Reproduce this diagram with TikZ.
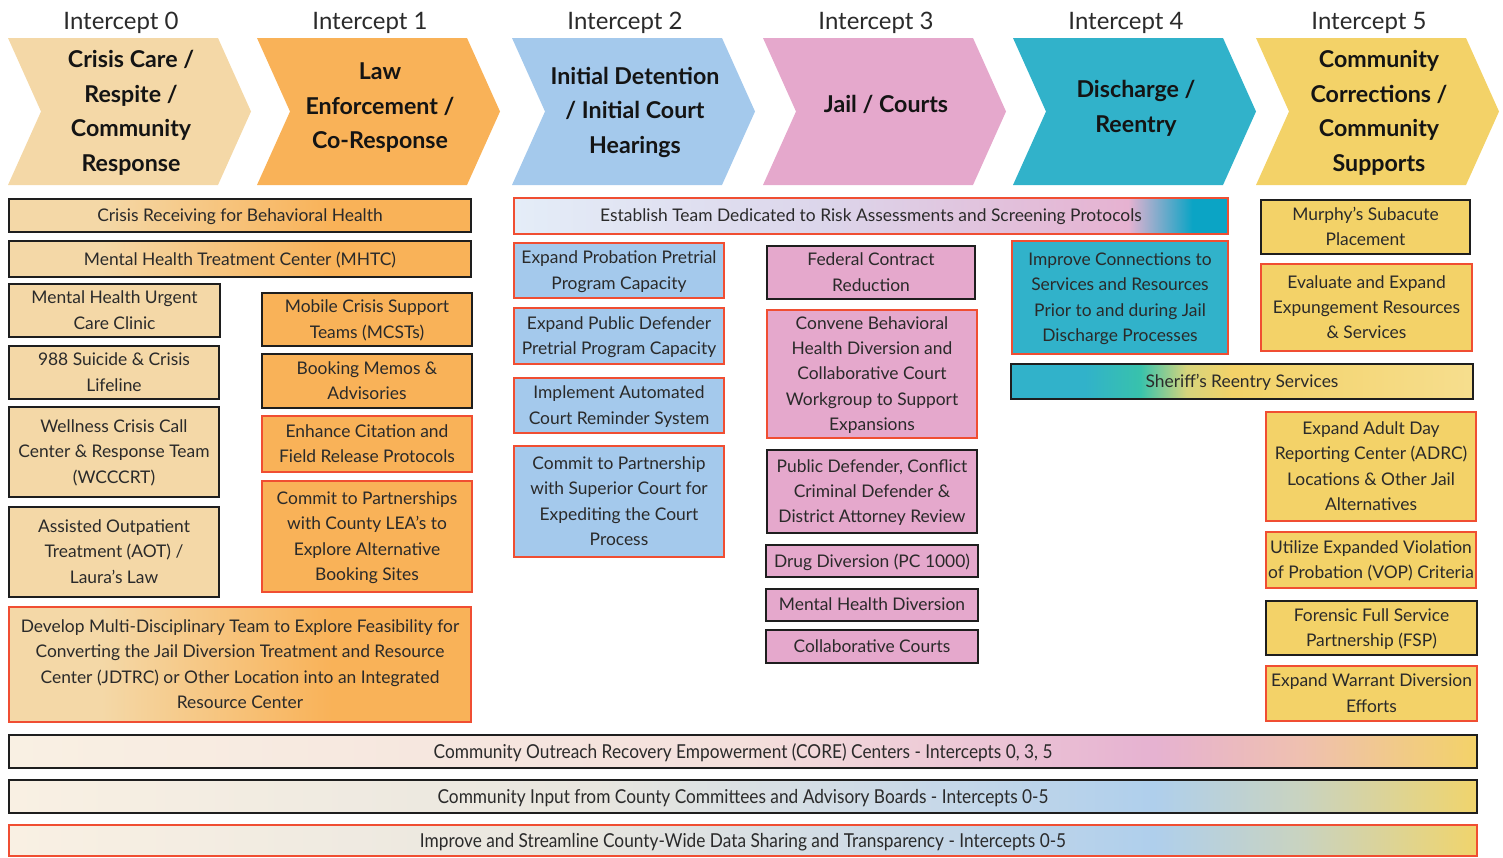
\documentclass[tikz,border=0pt]{standalone}
\usepackage{fontspec}
\setmainfont{Lato}
\newfontfamily\condfont[FakeStretch=0.9]{Lato}
\definecolor{Ink}{HTML}{1E1E1E}
\definecolor{Flag}{HTML}{F04E32}
\definecolor{Txt}{HTML}{2A2A2A}
\definecolor{Head}{HTML}{141414}
\definecolor{Tan}{HTML}{F4D8A7}
\definecolor{Orange}{HTML}{F9B258}
\definecolor{Sky}{HTML}{A4C9EC}
\definecolor{Rose}{HTML}{E5A8CC}
\definecolor{Teal}{HTML}{31B2CA}
\definecolor{Gold}{HTML}{F3D268}
\definecolor{Frost}{HTML}{E4EDF8}
\definecolor{Lilac}{HTML}{DCD5EA}
\definecolor{Blush}{HTML}{E6B2D1}
\definecolor{Sea}{HTML}{0BA4C5}
\definecolor{Mint}{HTML}{38C2AC}
\definecolor{Olive}{HTML}{D6D47C}
\definecolor{Butter}{HTML}{F6DE8E}
\definecolor{Cream}{HTML}{F9F0E3}
\definecolor{Shell}{HTML}{F4E0DC}
\definecolor{Peach}{HTML}{EFC0B0}
\definecolor{Stone}{HTML}{E8E6DF}
\definecolor{Mist}{HTML}{CCDAE7}
\definecolor{Ice}{HTML}{AFCFEC}
\definecolor{Sage}{HTML}{C9D3C0}
\definecolor{Straw}{HTML}{F0D46C}
% multi-stop fills (the 25bp--75bp part spans the box)
\pgfdeclarehorizontalshading{tanorange}{100bp}{color(0bp)=(Tan); color(35bp)=(Tan); color(60bp)=(Orange); color(100bp)=(Orange)}
\pgfdeclarehorizontalshading{riskfill}{100bp}{color(0bp)=(Frost); color(25bp)=(Frost); color(47bp)=(Lilac); color(68bp)=(Blush); color(72.5bp)=(Sea); color(100bp)=(Sea)}
\pgfdeclarehorizontalshading{reentryfill}{100bp}{color(0bp)=(Teal); color(33bp)=(Teal); color(39bp)=(Mint); color(44bp)=(Olive); color(49bp)=(Gold); color(75bp)=(Butter); color(100bp)=(Butter)}
\pgfdeclarehorizontalshading{corefill}{100bp}{color(0bp)=(Cream); color(25bp)=(Cream); color(50bp)=(Shell); color(64bp)=(Blush); color(69bp)=(Peach); color(75bp)=(Gold); color(100bp)=(Gold)}
\pgfdeclarehorizontalshading{inputfill}{100bp}{color(0bp)=(Cream); color(25bp)=(Cream); color(45bp)=(Stone); color(55bp)=(Mist); color(64bp)=(Ice); color(69bp)=(Sage); color(75bp)=(Straw); color(100bp)=(Straw)}
\tikzset{
  spot/.style args={(#1,#2)(#3,#4)}{at={({(#1+#3)/2},{(#2+#4)/2})},minimum width={(#3-#1)*0.5pt},minimum height={(#4-#2)*0.5pt}},
  box/.style={inner sep=0pt,align=center,text=Txt,line width=1.4pt,text depth=0.5pt,font=\fontsize{8.7}{12.7}\selectfont},
  blk/.style={box,draw=Ink},
  hot/.style={box,draw=Flag},
  bar/.style={shade,font=\condfont\fontsize{9.6}{11}\selectfont},
  head/.style={align=center,text=Head,font=\bfseries\fontsize{11.6}{17.25}\selectfont},
  tag/.style={text=Txt,font=\fontsize{12}{14}\selectfont},
}
\begin{document}
\begin{tikzpicture}[x=0.5pt,y=-0.5pt]
\useasboundingbox (0,0) rectangle (1503,857);
% intercept chevrons
\foreach \lx/\col/\ty/\n/\txt in {8/Tan/113/0/{Crisis Care /\\Respite /\\Community\\Response},
  257/Orange/108/1/{Law\\Enforcement /\\Co-Response},
  512/Sky/112/2/{Initial Detention\\/ Initial Court\\Hearings},
  763/Rose/104/3/{Jail / Courts},
  1013/Teal/108.5/4/{Discharge /\\Reentry},
  1256/Gold/113/5/{Community\\Corrections /\\Community\\Supports}}{
  \fill[\col] (\lx,38) -- (\lx+210,38) -- (\lx+243,111.5) -- (\lx+210,185) -- (\lx,185) -- (\lx+33,111.5) -- cycle;
  \node[head] (hd\n) at (\lx+123,\ty) {\txt};
  \node[tag] (ic\n) at (\lx+113,23) {Intercept \n};
}
% intercepts 0 and 1
\node[blk,shade,shading=tanorange,spot={(9,199)(471,232)}] (crisis) {Crisis Receiving for Behavioral Health};
\node[blk,shade,shading=tanorange,spot={(9,241)(471,277)}] (mhtc) {Mental Health Treatment Center (MHTC)};
\node[blk,fill=Tan,spot={(9,284)(220,337)}] (urgent) {Mental Health Urgent\\Care Clinic};
\node[blk,fill=Tan,spot={(9,346)(219,399)}] (lifeline) {988 Suicide \& Crisis\\Lifeline};
\node[blk,fill=Tan,spot={(9,407)(219,497)}] (wcccrt) {Wellness Crisis Call\\Center \& Response Team\\(WCCCRT)};
\node[blk,fill=Tan,spot={(9,507)(219,597)}] (aot) {Assisted Outpatient\\Treatment (AOT) /\\Laura's Law};
\node[blk,fill=Orange,spot={(262,293)(472,346)}] (mcst) {Mobile Crisis Support\\Teams (MCSTs)};
\node[blk,fill=Orange,spot={(262,354)(472,408)}] (memos) {Booking Memos \&\\Advisories};
\node[hot,fill=Orange,spot={(262,416)(472,472)}] (citation) {Enhance Citation and\\Field Release Protocols};
\node[hot,fill=Orange,spot={(262,481)(472,592)}] (lea) {Commit to Partnerships\\with County LEA's to\\Explore Alternative\\Booking Sites};
\node[hot,shade,shading=tanorange,spot={(9,607)(471,722)}] (jdtrc) {Develop Multi-Disciplinary Team to Explore Feasibility for\\Converting the Jail Diversion Treatment and Resource\\Center (JDTRC) or Other Location into an Integrated\\Resource Center};
% intercept 2
\node[hot,shade,shading=riskfill,spot={(514,198)(1228,234)}] (risk) {Establish Team Dedicated to Risk Assessments and Screening Protocols};
\node[hot,fill=Sky,spot={(514,243)(724,298)}] (probation) {Expand Probation Pretrial\\Program Capacity};
\node[hot,fill=Sky,spot={(514,308)(724,364)}] (pubdef) {Expand Public Defender\\Pretrial Program Capacity};
\node[hot,fill=Sky,spot={(514,378)(724,433)}] (reminder) {Implement Automated\\Court Reminder System};
\node[hot,fill=Sky,spot={(514,446)(724,557)}] (superior) {Commit to Partnership\\with Superior Court for\\Expediting the Court\\Process};
% intercept 3
\node[blk,fill=Rose,spot={(767,246)(975,299)}] (federal) {Federal Contract\\Reduction};
\node[hot,fill=Rose,spot={(767,310)(977,438)}] (convene) {Convene Behavioral\\Health Diversion and\\Collaborative Court\\Workgroup to Support\\Expansions};
\node[blk,fill=Rose,spot={(767,450)(977,533)}] (review) {Public Defender, Conflict\\Criminal Defender \&\\District Attorney Review};
\node[blk,fill=Rose,spot={(766,545)(978,577)}] (drug) {Drug Diversion (PC 1000)};
\node[blk,fill=Rose,spot={(766,589)(978,621)}] (mhdiv) {Mental Health Diversion};
\node[blk,fill=Rose,spot={(766,630)(978,663)}] (collab) {Collaborative Courts};
% intercept 4
\node[hot,fill=Teal,spot={(1012,241)(1228,354)}] (connect) {Improve Connections to\\Services and Resources\\Prior to and during Jail\\Discharge Processes};
\node[blk,shade,shading=reentryfill,spot={(1011,364)(1473,399)}] (sheriff) {Sheriff's Reentry Services};
% intercept 5
\node[blk,fill=Gold,spot={(1261,200)(1470,254)}] (murphy) {Murphy's Subacute\\Placement};
\node[hot,fill=Gold,spot={(1261,264)(1472,351)}] (expunge) {Evaluate and Expand\\Expungement Resources\\\& Services};
\node[hot,fill=Gold,spot={(1266,412)(1476,521)}] (adrc) {Expand Adult Day\\Reporting Center (ADRC)\\Locations \& Other Jail\\Alternatives};
\node[hot,fill=Gold,spot={(1266,532)(1476,588)}] (vop) {Utilize Expanded Violation\\of Probation (VOP) Criteria};
\node[blk,fill=Gold,spot={(1266,601)(1477,655)}] (fsp) {Forensic Full Service\\Partnership (FSP)};
\node[hot,fill=Gold,spot={(1266,666)(1477,721)}] (warrant) {Expand Warrant Diversion\\Efforts};
% cross-intercept bars
\node[blk,bar,shading=corefill,spot={(9,735)(1477,768)}] (core) {Community Outreach Recovery Empowerment (CORE) Centers - Intercepts 0, 3, 5};
\node[blk,bar,shading=inputfill,spot={(9,780)(1477,813)}] (input) {Community Input from County Committees and Advisory Boards - Intercepts 0-5};
\node[hot,bar,shading=inputfill,spot={(9,825)(1477,856)}] (data) {Improve and Streamline County-Wide Data Sharing and Transparency - Intercepts 0-5};
\end{tikzpicture}
\end{document}
